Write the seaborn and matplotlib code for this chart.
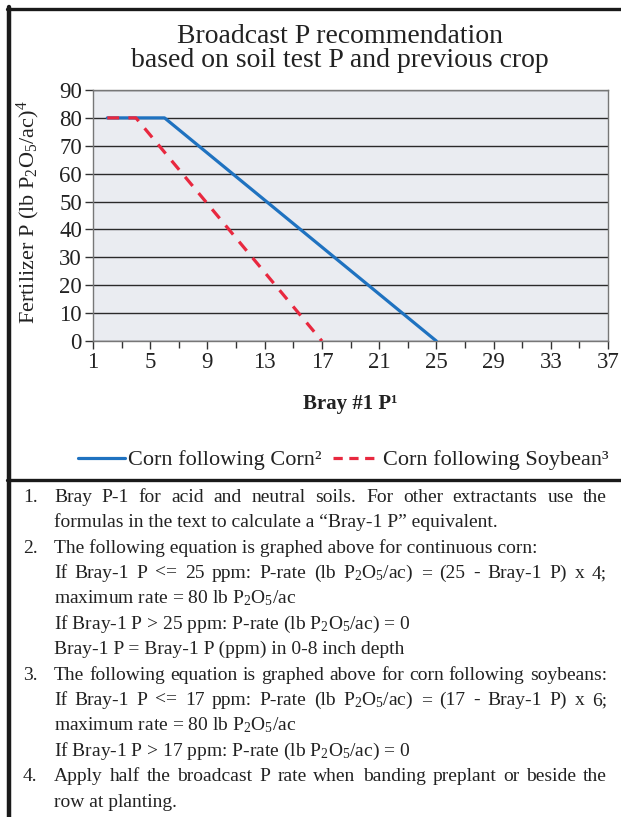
import matplotlib
matplotlib.use("Agg")
import matplotlib.pyplot as plt
import pandas as pd
import seaborn as sns
from matplotlib.lines import Line2D

W, H = 621, 817

# chart data
corn_corn_x = [2, 6, 25]
corn_corn_y = [80, 80, 0]
corn_soy_x = [2, 4, 17]
corn_soy_y = [80, 80, 0]
series_names = ["Corn following Corn", "Corn following Soybean"]
legend_labels = ["Corn following Corn²", "Corn following Soybean³"]

x_ticks = [1, 5, 9, 13, 17, 21, 25, 29, 33, 37]
y_ticks = [0, 10, 20, 30, 40, 50, 60, 70, 80, 90]

title_lines = ["Broadcast P recommendation", "based on soil test P and previous crop"]
x_label = "Bray #1 P¹"
y_label = "Fertilizer P (lb P$_2$O$_5$/ac)$^4$"

note_numbers = ["1.", "", "2.", "", "", "", "", "3.", "", "", "", "4.", ""]
note_texts = [
    "Bray P-1 for acid and neutral soils. For other extractants use the",
    "formulas in the text to calculate a “Bray-1 P” equivalent.",
    "The following equation is graphed above for continuous corn:",
    "If Bray-1 P <= 25 ppm: P-rate (lb P$_2$O$_5$/ac) = (25 - Bray-1 P) x 4;",
    "maximum rate = 80 lb P$_2$O$_5$/ac",
    "If Bray-1 P > 25 ppm: P-rate (lb P$_2$O$_5$/ac) = 0",
    "Bray-1 P = Bray-1 P (ppm) in 0-8 inch depth",
    "The following equation is graphed above for corn following soybeans:",
    "If Bray-1 P <= 17 ppm: P-rate (lb P$_2$O$_5$/ac) = (17 - Bray-1 P) x 6;",
    "maximum rate = 80 lb P$_2$O$_5$/ac",
    "If Bray-1 P > 17 ppm: P-rate (lb P$_2$O$_5$/ac) = 0",
    "Apply half the broadcast P rate when banding preplant or beside the",
    "row at planting.",
]
note_justified = [True, False, False, True, False, False, False, True, True, False, False, True, False]

BLUE = "#1f72c0"
RED = "#e8283f"
INK = "#222222"
DASH = (3.7, 2.9)
LEG_DASH = (2.9, 2.05)

sns.set_theme(style="white")
plt.rcParams["font.family"] = ["Liberation Serif", "DejaVu Serif"]
plt.rcParams["mathtext.fontset"] = "custom"
plt.rcParams["mathtext.rm"] = "Liberation Serif"
plt.rcParams["mathtext.it"] = "Liberation Serif"
plt.rcParams["mathtext.bf"] = "Liberation Serif:bold"


def fx(px):
    return px / W


def fy(py):
    return 1 - py / H


df = pd.DataFrame({
    "bray": corn_corn_x + corn_soy_x,
    "rate": corn_corn_y + corn_soy_y,
    "series": [series_names[0]] * len(corn_corn_x) + [series_names[1]] * len(corn_soy_x),
})

fig = plt.figure(figsize=(W / 100, H / 100), dpi=100)
ax = fig.add_axes([fx(93), fy(341), fx(608) - fx(93), fy(90) - fy(341)])
ax.set_facecolor("#eaecf1")

sns.lineplot(
    data=df, x="bray", y="rate", hue="series", style="series",
    palette={series_names[0]: BLUE, series_names[1]: RED},
    dashes={series_names[0]: "", series_names[1]: DASH},
    linewidth=2.3, legend=False, ax=ax, zorder=3,
)

ax.set_xlim(1, 37)
ax.set_ylim(0, 90)
ax.set_xticks(x_ticks)
ax.set_xticks(range(1, 38, 2), minor=True)
ax.set_yticks(y_ticks)
ax.tick_params(axis="both", which="both", direction="out", length=6, width=1,
               color="#333333", labelsize=16.5, labelcolor=INK, pad=2,
               bottom=True, left=True)
ax.tick_params(axis="x", which="minor", length=5)
ax.grid(axis="y", color="#2a2a2a", linewidth=1)
ax.set_axisbelow(True)
for s in ax.spines.values():
    s.set_color("#777777")
    s.set_linewidth(1)
ax.set_xlabel("")
ax.set_ylabel("")

# titles and axis labels
fig.text(fx(340), fy(43), title_lines[0], ha="center", va="baseline", fontsize=20, color=INK)
fig.text(fx(340), fy(67), title_lines[1], ha="center", va="baseline", fontsize=20, color=INK)
fig.text(fx(350), fy(404), x_label, ha="center", va="center", fontsize=15, fontweight="bold", color=INK)
fig.text(fx(28), fy(212), y_label, ha="center", va="center", rotation=90, fontsize=16, color=INK)

# legend
handles = [
    Line2D([], [], color=BLUE, lw=2.3),
    Line2D([], [], color=RED, lw=2.3, dashes=LEG_DASH),
]
leg = fig.legend(handles, legend_labels, loc="center", bbox_to_anchor=(fx(343), fy(460)), ncol=2,
                 frameon=False, fontsize=16, handlelength=2.1, handletextpad=0.15, columnspacing=0.5)
for t in leg.get_texts():
    t.set_color(INK)

# frame lines
fig.add_artist(Line2D([fx(9), fx(9)], [fy(7), fy(817)], color="#1a1a1a", lw=3.2))
fig.add_artist(Line2D([fx(7), fx(621)], [fy(8.5), fy(8.5)], color="#1a1a1a", lw=2.4))
fig.add_artist(Line2D([fx(7), fx(621)], [fy(479.5), fy(479.5)], color="#1a1a1a", lw=2.4))

# notes, justified like the printed page
renderer = fig.canvas.get_renderer()
NOTE_SIZE = 14
x_num, x_text, x_right = 23, 54, 607
for i, (num, text, just) in enumerate(zip(note_numbers, note_texts, note_justified)):
    base = 502 + 25.4 * i
    if num:
        fig.text(fx(x_num), fy(base), num, ha="left", va="baseline", fontsize=NOTE_SIZE, color=INK)
    if not just:
        fig.text(fx(x_text), fy(base), text, ha="left", va="baseline", fontsize=NOTE_SIZE, color=INK)
        continue
    words = text.split(" ")
    arts = [fig.text(0, 0, w, ha="left", va="baseline", fontsize=NOTE_SIZE, color=INK) for w in words]
    widths = [a.get_window_extent(renderer).width for a in arts]
    gap = (x_right - x_text - sum(widths)) / (len(words) - 1)
    xpos = x_text
    for a, w in zip(arts, widths):
        a.set_position((fx(xpos), fy(base)))
        xpos += w + gap

fig.savefig("out.png", dpi=100, facecolor="white")
